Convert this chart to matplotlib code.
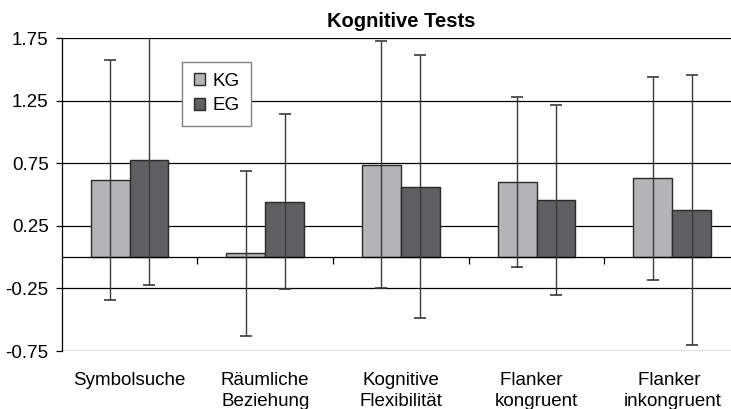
import matplotlib.pyplot as plt
import numpy as np

plt.rcParams['font.family'] = ['Liberation Sans', 'DejaVu Sans']

categories = ["Symbolsuche", "Räumliche\nBeziehung", "Kognitive\nFlexibilität",
              "Flanker  \nkongruent", "Flanker \ninkongruent"]
kg_mean = [0.62, 0.03, 0.74, 0.60, 0.63]
kg_err = [0.96, 0.66, 0.99, 0.68, 0.81]
eg_mean = [0.775, 0.445, 0.565, 0.455, 0.38]
eg_err = [1.00, 0.70, 1.05, 0.76, 1.08]
yticks = [-0.75, -0.25, 0.25, 0.75, 1.25, 1.75]


def main():
    fig = plt.figure(figsize=(7.31, 4.09), dpi=100)
    ax = fig.add_axes([0.0844, 0.1418, 0.928, 0.7646])

    x = np.arange(len(categories))
    w = 0.287
    ax.bar(x - w / 2, kg_mean, w, color="#b4b4b7", edgecolor="#2a2a2a",
           linewidth=1.0, label="KG", zorder=2)
    ax.bar(x + w / 2, eg_mean, w, color="#5f5f61", edgecolor="#2a2a2a",
           linewidth=1.0, label="EG", zorder=2)
    ax.errorbar(x - w / 2, kg_mean, yerr=kg_err, fmt="none", ecolor="#3a3a3a",
                elinewidth=1.0, capsize=4, capthick=1.2, zorder=3)
    ax.errorbar(x + w / 2, eg_mean, yerr=eg_err, fmt="none", ecolor="#3a3a3a",
                elinewidth=1.0, capsize=4, capthick=1.2, zorder=3)

    ax.set_xlim(-0.5, len(categories) - 0.5)
    ax.set_ylim(-0.75, 1.75)
    ax.set_yticks(yticks)
    ax.set_yticklabels([f"{v:.2f}" for v in yticks])
    ax.yaxis.grid(True, color="black", linewidth=0.9, zorder=0)
    ax.set_axisbelow(True)

    # category axis sits at zero
    ax.spines["bottom"].set_position(("data", 0))
    ax.spines["bottom"].set_linewidth(0.9)
    ax.spines["left"].set_linewidth(0.9)
    ax.spines["top"].set_visible(False)
    ax.spines["right"].set_visible(False)
    ax.set_xticks(x)
    ax.set_xticklabels(categories, linespacing=1.3)
    ax.set_xticks(x[:-1] + 0.5, minor=True)
    ax.tick_params(axis="x", which="major", length=0, pad=82.5, labelsize=13.5)
    ax.tick_params(axis="x", which="minor", length=5, direction="out", width=0.9)
    ax.tick_params(axis="y", length=4.5, width=0.9, labelsize=13.5, pad=5)

    ax.set_title("Kognitive Tests", fontsize=14.5, fontweight="bold", pad=8)

    leg = ax.legend(loc="upper left", bbox_to_anchor=(0.178, 0.925),
                    borderaxespad=0, fancybox=False, framealpha=1,
                    edgecolor="#808080", fontsize=13.5, handlelength=0.6,
                    handleheight=0.6, handletextpad=0.4, labelspacing=0.4,
                    borderpad=0.6)
    leg.get_frame().set_linewidth(1.0)

    fig.savefig("out.png", dpi=100)
    plt.close(fig)


if __name__ == "__main__":
    main()
